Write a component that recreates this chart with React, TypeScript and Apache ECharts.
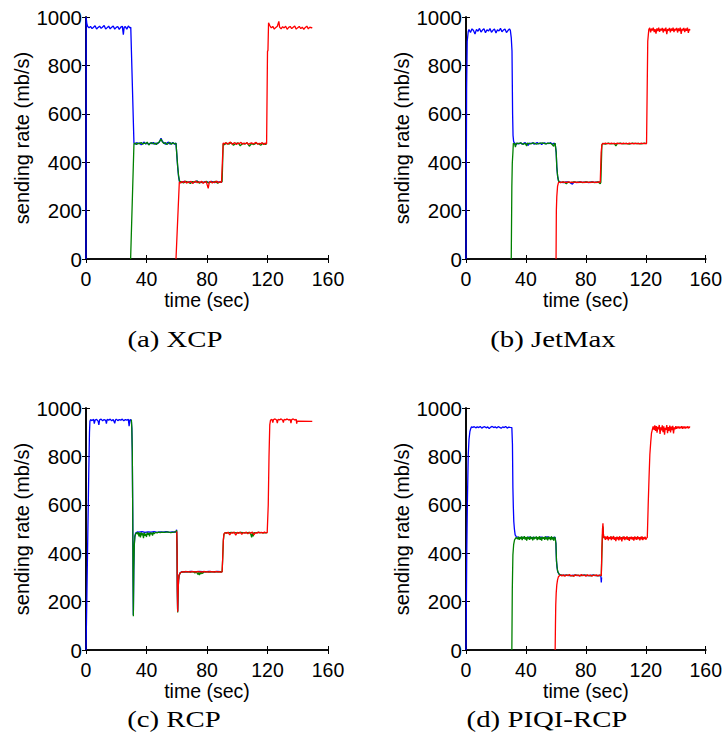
import React, { useEffect, useRef } from "react";
import * as echarts from "echarts";

const panelCaptions = ["(a) XCP", "(b) JetMax", "(c) RCP", "(d) PIQI-RCP"];
const xAxisTitle = "time (sec)";
const yAxisTitle = "sending rate (mb/s)";
const flowColors = ["#0000ff", "#008000", "#ff0000"];
const xRange = [0, 160, 40];
const yRange = [0, 1000, 200];

// (a) XCP
const xcpBlue = [[0,0],[0.1,1000],[0.5,975],[1,962],[2,955],[3,961],[4,952],[5,958],[6,964],[7,950],[8,957],[9,962],[10,953],[11,959],[12,965],[13,950],[14,956],[15,962],[16,951],[17,958],[18,963],[19,950],[20,957],[21,961],[22,949],[23,958],[24,962],[24.7,927],[25.2,957],[26,960],[27,950],[28,963],[29,955],[29.6,958],[31.7,479],[32.5,474],[33.5,481],[34.5,476],[35.5,480],[36.5,472],[37.5,478],[38.5,483],[39.5,475],[40.5,479],[41.5,473],[42.5,480],[43.5,476],[44.5,482],[45.5,474],[46.5,479],[47.5,477],[48.5,483],[49.6,499],[50.5,486],[51.5,480],[52.5,474],[53.5,479],[54.5,483],[55.5,475],[56.5,478],[57.5,481],[58.5,474],[59.5,479],[60.6,380],[61.2,340],[61.8,320],[63,316],[65,321],[67,317],[69,320],[71,315],[73,322],[75,318],[77,316],[79,320],[81,317],[83,321],[85,316],[87,319],[89,318],[90,317]];
const xcpGreen = [[29.5,0],[31.7,475],[32.5,480],[33.5,473],[34.5,479],[35.5,476],[36.5,482],[37.5,474],[38.5,479],[39.5,477],[40.5,483],[41.5,471],[42.5,478],[43.5,481],[44.5,475],[45.5,479],[46.5,473],[47.5,480],[48.5,484],[49.6,496],[50.5,484],[51.5,477],[52.5,481],[53.5,473],[54.5,478],[55.5,482],[56.5,474],[57.5,480],[58.5,477],[59.5,478],[60.6,385],[61.2,345],[61.8,322],[63,319],[64.5,314],[66,321],[67.5,317],[69,312],[70.5,320],[72,318],[73.5,322],[75,313],[76.5,319],[78,316],[79.5,321],[81,314],[82.5,319],[84,317],[85.5,321],[87,313],[88.5,318],[90,320],[90.7,476],[91.5,472],[93,479],[94.5,474],[96,481],[97.5,470],[99,477],[100.5,480],[102,468],[103.5,478],[105,475],[106.5,480],[108,466],[109.5,477],[111,473],[112.5,479],[114,476],[115.5,470],[117,478],[118.5,474],[119.5,477]];
const xcpRed = [[59.5,0],[61.7,318],[62.5,314],[63.5,320],[64.5,316],[65.5,322],[66.5,313],[67.5,319],[68.5,317],[69.5,321],[70.5,312],[71.5,318],[72.5,322],[73.5,315],[74.5,319],[75.5,316],[76.5,321],[77.5,313],[78.5,318],[79.5,320],[80.8,292],[81.5,317],[82.5,321],[83.5,314],[84.5,319],[85.5,316],[86.5,322],[87.5,315],[88.5,319],[89.6,317],[90.7,479],[91.5,476],[92.5,481],[93.5,474],[94.5,479],[95.5,483],[96.5,475],[97.5,478],[98.5,481],[99.5,473],[100.5,479],[101.5,477],[102.5,482],[103.5,474],[104.5,479],[105.5,476],[106.5,481],[107.5,473],[108.5,478],[109.5,480],[110.5,475],[111.5,479],[112.5,482],[113.5,474],[114.5,478],[115.5,476],[116.5,481],[117.5,473],[118.5,479],[119.4,476],[120,858],[120.3,862],[120.7,976],[121.5,965],[122.5,955],[123.5,961],[124.5,950],[125.5,957],[126.5,962],[127.5,982],[128,958],[129,951],[130,960],[131,955],[132,962],[133,949],[134,957],[135,961],[136,952],[137,958],[138,963],[139,950],[140,956],[141,961],[142,952],[143,958],[144,949],[145,957],[146,962],[147,951],[148,958],[149,955],[149.6,957]];

// (b) JetMax
const jetBlue = [[0,0],[0.4,700],[0.8,900],[1.5,940],[2,948],[3,936],[4,951],[5,944],[6,930],[7,949],[8,941],[9,953],[10,938],[11,946],[12,951],[13,935],[14,947],[15,942],[16,952],[17,937],[18,945],[19,950],[20,934],[21,947],[22,942],[23,953],[24,939],[25,946],[26,950],[27,936],[28,944],[29,951],[29.6,945],[30.2,915],[30.7,860],[31.1,600],[31.4,510],[31.8,485],[32.5,478],[33.5,472],[34.5,479],[35.5,476],[36.5,480],[37.5,474],[38.5,478],[39.5,481],[40.5,475],[41.5,470],[42.5,479],[43.5,477],[44.5,480],[45.5,474],[46.5,478],[47.5,481],[48.5,476],[49.5,479],[50.5,473],[51.5,478],[52.5,480],[53.5,475],[54.5,479],[55.5,477],[56.5,481],[57.5,474],[58.5,478],[59.5,477],[60.2,440],[60.6,380],[61.2,338],[61.8,322],[63,318],[65,316],[67,319],[69,317],[71,309],[72,318],[74,316],[76,319],[78,317],[80,318],[82,316],[84,319],[86,317],[88,318],[89.6,317]];
const jetGreen = [[30.2,0],[30.6,300],[30.9,396],[31.3,440],[31.6,478],[32.5,475],[33,462],[33.5,479],[35,477],[36.5,480],[38,474],[39.5,478],[40.5,467],[41,479],[43,476],[45,480],[47,475],[49,478],[51,480],[53,476],[55,479],[57,477],[58.5,466],[59,478],[59.5,477],[60.2,440],[60.6,380],[61.2,340],[61.8,322],[63,316],[65,319],[67,311],[68,318],[70,316],[72,319],[74,317],[76,318],[78,316],[80,319],[82,317],[84,318],[86,316],[88,319],[89.6,311],[90,317],[90.7,472],[91.3,478],[93,475],[95,479],[97,476],[99,478],[100,467],[101,477],[103,479],[105,476],[107,478],[109,475],[111,479],[113,477],[115,478],[117,476],[119,479],[120.5,477]];
const jetRed = [[60.1,0],[60.3,200],[60.6,258],[61.1,300],[61.7,316],[62.5,318],[63.5,316],[64.5,319],[65.5,317],[66.5,318],[67.5,316],[68.5,319],[69.5,317],[70.5,318],[71.5,316],[72.5,319],[73.5,317],[74.5,318],[75.5,316],[76.5,319],[77.5,317],[78.5,318],[79.5,316],[80.5,319],[81.5,317],[82.5,318],[83.5,316],[84.5,319],[85.5,317],[86.5,318],[87.5,316],[88.5,319],[89.6,317],[90.2,440],[90.7,472],[91.3,478],[92,476],[93,479],[94,477],[95,478],[96,476],[97,479],[98,477],[99,478],[100,476],[101,479],[102,477],[103,478],[104,476],[105,479],[106,477],[107,478],[108,476],[109,479],[110,477],[111,478],[112,476],[113,479],[114,477],[115,478],[116,476],[117,479],[118,477],[119,478],[120.5,477],[121.3,900],[122,948],[122.6,955],[123.2,937],[123.8,952],[124.4,944],[125,956],[125.6,938],[126.2,950],[126.8,931],[127.4,953],[128,942],[128.6,956],[129.2,939],[129.8,951],[130.4,944],[131,955],[131.6,936],[132.2,952],[132.8,942],[133.4,956],[134,929],[134.6,950],[135.2,944],[135.8,955],[136.4,937],[137,952],[137.6,943],[138.2,956],[138.8,938],[139.4,951],[140,945],[140.6,955],[141.2,936],[141.8,953],[142.4,942],[143,956],[143.6,930],[144.2,951],[144.8,944],[145.4,955],[146,938],[146.6,952],[147.2,943],[147.8,956],[148.4,934],[149,950],[149.6,945]];

// (c) RCP
const rcpBlue = [[0,0],[0.6,230],[1.2,480],[1.8,720],[2.3,900],[2.6,945],[3,952],[4,948],[5,953],[5.5,935],[6,950],[7,953],[8,946],[8.5,930],[9,951],[10,954],[11,947],[12,952],[13,949],[13.5,935],[14,953],[15,950],[16,954],[17,947],[18,952],[19,937],[19.5,951],[20,954],[21,948],[22,952],[23,950],[24,954],[25,947],[26,952],[27,950],[28,953],[28.5,925],[29,950],[29.5,952],[30,945],[30.3,915],[30.6,820],[30.9,560],[31.1,300],[31.3,145],[31.6,330],[31.9,434],[32.3,470],[32.8,483],[33.9,488],[35,487],[37,489],[39,486],[41,488],[43,487],[45,489],[47,486],[49,488],[51,487],[53,489],[55,486],[57,488],[59,487],[59.6,490],[59.9,497],[60.2,420],[60.4,250],[60.6,160],[60.9,245],[61.2,290],[61.5,308],[62.2,318],[63.2,323],[65,324],[67,323],[69,325],[71,324],[73,323],[75,325],[77,324],[79,323],[81,325],[83,324],[85,323],[87,325],[89,324],[90,323]];
const rcpGreen = [[30,952],[30.3,915],[30.6,820],[30.9,560],[31.1,300],[31.3,140],[31.6,330],[31.9,430],[32.3,468],[32.8,480],[33.5,485],[34,478],[34.5,487],[35,470],[35.5,484],[36,465],[36.5,486],[37,474],[37.5,482],[38,462],[38.5,485],[39,472],[39.5,480],[40,467],[40.5,486],[41,476],[41.5,483],[42,470],[42.5,486],[43,478],[43.5,484],[44,473],[44.5,487],[45,480],[46,486],[47,484],[48,487],[49,485],[50,487],[52,486],[54,488],[56,485],[58,487],[59.6,489],[59.9,495],[60.2,410],[60.4,240],[60.6,155],[60.9,240],[61.2,288],[61.5,306],[62.2,318],[63.2,322],[65,323],[67,324],[69,322],[71,324],[72,318],[73,323],[74,312],[74.5,320],[75,310],[75.5,321],[76,314],[76.5,322],[77,316],[78,323],[80,324],[82,322],[84,324],[86,323],[88,324],[90,323],[90.4,380],[90.8,450],[91.2,478],[92,485],[94,484],[96,486],[98,485],[100,484],[102,486],[104,485],[106,484],[108,486],[109,478],[109.5,465],[110,482],[110.5,470],[111,485],[112,484],[114,486],[116,485],[118,484],[119.8,485]];
const rcpRed = [[60,490],[60.2,420],[60.4,250],[60.6,158],[60.9,243],[61.2,290],[61.5,308],[62.2,318],[63.2,322],[64,324],[65,322],[66,325],[67,323],[68,324],[69,322],[70,325],[71,323],[72,324],[73,322],[74,325],[75,323],[76,324],[77,322],[78,325],[79,323],[80,324],[81,322],[82,325],[83,323],[84,324],[85,322],[86,325],[87,323],[88,324],[89,322],[90,323],[90.4,385],[90.8,455],[91.2,480],[92,485],[93,482],[94,487],[95,476],[96,485],[97,483],[98,487],[99,474],[100,486],[101,482],[102,487],[103,478],[104,485],[105,483],[106,487],[107,480],[108,486],[109,483],[110,487],[111,476],[112,485],[113,483],[114,487],[115,484],[116,486],[117,483],[118,487],[119,484],[119.8,485],[120.5,600],[121,800],[121.5,930],[122,950],[123,953],[123.5,940],[124,952],[125,955],[126,950],[126.5,938],[127,953],[128,951],[129,955],[130,949],[130.5,940],[131,953],[132,951],[133,955],[134,950],[135,953],[135.5,938],[136,952],[137,955],[138,950],[139,953],[139.3,935],[139.6,946],[149.6,945]];

// (d) PIQI-RCP
const piqiBlue = [[0,0],[0.5,400],[0.9,600],[1.5,807],[2,870],[2.6,903],[3.2,916],[3.7,922],[4.5,920],[5.5,923],[6.5,918],[7.5,922],[8.5,919],[9.5,924],[10.5,917],[11.5,921],[12.5,923],[13.5,918],[14.5,922],[15.5,915],[16.5,921],[17.5,924],[18.5,919],[19.5,922],[20.5,917],[21.5,923],[22.5,920],[23.5,916],[24.5,922],[25.5,919],[26.5,924],[27.5,917],[28.5,921],[29.5,920],[30.6,919],[31,850],[31.3,669],[31.6,590],[31.9,531],[32.3,500],[32.8,476],[33.6,468],[34.6,466],[36,464],[38,465],[40,463],[42,466],[44,464],[46,465],[48,463],[50,466],[52,464],[54,467],[56,465],[58,464],[59.5,466],[60,440],[60.4,366],[60.8,340],[61.2,324],[62.1,313],[63,309],[65,308],[67,309],[69,307],[71,308],[73,309],[75,307],[77,308],[79,309],[81,307],[83,308],[85,309],[87,307],[89,308],[90,306],[90.3,279],[90.5,300]];
const piqiGreen = [[30.6,0],[30.9,250],[31.3,393],[31.8,435],[32.4,455],[33.5,465],[34.5,458],[35,468],[35.5,455],[36,466],[36.5,459],[37,469],[37.5,454],[38,467],[38.5,460],[39,470],[39.5,456],[40,466],[40.5,452],[41,468],[41.5,459],[42,466],[42.5,455],[43,469],[43.5,460],[44,465],[44.5,453],[45,468],[45.5,457],[46,466],[46.5,461],[47,469],[47.5,454],[48,466],[48.5,458],[49,470],[49.5,455],[50,465],[50.5,452],[51,467],[51.5,460],[52,466],[52.5,455],[53,469],[53.5,458],[54,465],[54.5,453],[55,468],[55.5,459],[56,466],[56.5,454],[57,470],[57.5,457],[58,465],[58.5,452],[59,467],[59.5,462],[60,440],[60.4,368],[60.8,342],[61.2,325],[62.1,314],[63,310],[65,307],[67,309],[69,308],[71,306],[73,309],[75,308],[77,307],[79,309],[81,308],[83,306],[85,309],[87,307],[89,308],[90.3,307],[90.7,400],[91.1,470],[91.4,510],[91.8,470],[92.2,463],[93,466],[95,461],[97,467],[99,460],[101,465],[103,462],[105,466],[107,459],[109,464],[111,461],[113,466],[115,460],[117,465],[119,462],[120,463]];
const piqiRed = [[59.5,0],[59.7,100],[59.9,186],[60.2,235],[60.6,269],[61.1,290],[61.7,303],[62.5,308],[63.2,310],[64,306],[65,311],[66,305],[67,310],[68,307],[69,312],[70,306],[71,309],[72,304],[73,311],[74,307],[75,310],[76,305],[77,312],[78,307],[79,309],[80,305],[81,311],[82,307],[83,310],[84,305],[85,309],[86,307],[87,311],[88,306],[89,309],[90.3,308],[90.7,420],[91.1,500],[91.4,524],[91.7,480],[92,463],[92.5,470],[93,455],[93.5,468],[94,458],[94.5,471],[95,453],[95.5,466],[96,460],[96.5,469],[97,454],[97.5,467],[98,459],[98.5,471],[99,455],[99.5,465],[100,450],[100.5,468],[101,458],[101.5,466],[102,453],[102.5,470],[103,457],[103.5,465],[104,449],[104.5,467],[105,458],[105.5,469],[106,454],[106.5,466],[107,460],[107.5,470],[108,455],[108.5,464],[109,451],[109.5,467],[110,459],[110.5,468],[111,456],[111.5,466],[112,452],[112.5,469],[113,458],[113.5,465],[114,455],[114.5,470],[115,460],[115.5,466],[116,453],[116.5,467],[117,457],[117.5,469],[118,454],[118.5,465],[119,459],[119.5,468],[120,456],[120.5,463],[121,465],[121.6,600],[122.2,720],[122.7,807],[123.3,860],[123.8,896],[124.4,912],[124.9,924],[125.5,910],[126,928],[126.5,905],[127,925],[127.5,898],[128,922],[128.5,912],[129,930],[129.5,893],[130,920],[130.5,908],[131,928],[131.5,900],[132,924],[132.5,890],[133,918],[133.5,910],[134,929],[134.5,896],[135,921],[135.5,906],[136,927],[136.5,899],[137,923],[137.5,909],[138,926],[138.5,895],[139,920],[139.5,912],[140,925],[140.5,914],[141,923],[141.5,916],[142,924],[142.5,915],[143,922],[143.5,917],[144,925],[144.5,914],[145,923],[145.5,916],[146,924],[146.5,915],[147,922],[147.5,918],[148,924],[148.5,916],[149,922],[149.6,920]];

const panelFlows = [
  [xcpBlue, xcpGreen, xcpRed],
  [jetBlue, jetGreen, jetRed],
  [rcpBlue, rcpGreen, rcpRed],
  [piqiBlue, piqiGreen, piqiRed],
];

const gridBoxes = [
  { left: 86, top: 17 },
  { left: 466, top: 17 },
  { left: 86, top: 408 },
  { left: 466, top: 408 },
];
const captionPos = [
  { x: 175, y: 339 },
  { x: 553, y: 339 },
  { x: 174, y: 719 },
  { x: 547, y: 719 },
];

const SANS = "'Liberation Sans', Arial, Helvetica, sans-serif";
const SERIF = "'Liberation Serif', 'Times New Roman', serif";

export default function App() {
  const ref = useRef<HTMLDivElement>(null);
  useEffect(() => {
    if (!ref.current) return;
    const chart = echarts.init(ref.current, null, { renderer: "svg" });
    const grid: any[] = [];
    const xAxis: any[] = [];
    const yAxis: any[] = [];
    const series: any[] = [];
    const frameLine = { show: true, lineStyle: { color: "#000", width: 1.6 } };
    const tick = { show: true, inside: true, length: 4, lineStyle: { color: "#000", width: 1 } };
    panelFlows.forEach((flows, i) => {
      grid.push({ left: gridBoxes[i].left, top: gridBoxes[i].top, width: 242, height: 242, containLabel: false });
      xAxis.push({
        type: "value", gridIndex: i, position: "bottom", min: xRange[0], max: xRange[1], interval: xRange[2],
        axisLine: frameLine, axisTick: tick, splitLine: { show: false },
        axisLabel: { color: "#000", fontSize: 19.5, fontFamily: SANS, margin: 10, formatter: (v: number) => String(v) },
        name: xAxisTitle, nameLocation: "middle", nameGap: 28,
        nameTextStyle: { color: "#000", fontSize: 19.5, fontFamily: SANS },
      });
      xAxis.push({
        type: "value", gridIndex: i, position: "top", min: xRange[0], max: xRange[1], interval: xRange[2],
        axisLine: frameLine, axisTick: tick, splitLine: { show: false }, axisLabel: { show: false },
      });
      yAxis.push({
        type: "value", gridIndex: i, position: "left", min: yRange[0], max: yRange[1], interval: yRange[2],
        axisLine: frameLine, axisTick: tick, splitLine: { show: false },
        axisLabel: { color: "#000", fontSize: 20.5, fontFamily: SANS, margin: 4, formatter: (v: number) => String(v) },
        name: yAxisTitle, nameLocation: "middle", nameGap: 53,
        nameTextStyle: { color: "#000", fontSize: 20, fontFamily: SANS },
      });
      yAxis.push({
        type: "value", gridIndex: i, position: "right", min: yRange[0], max: yRange[1], interval: yRange[2],
        axisLine: frameLine, axisTick: tick, splitLine: { show: false }, axisLabel: { show: false },
      });
      flows.forEach((data, k) => {
        series.push({
          type: "line", xAxisIndex: 2 * i, yAxisIndex: 2 * i, data, showSymbol: false, symbol: "none",
          lineStyle: { color: flowColors[k], width: 1.3 }, clip: true, silent: true,
        });
      });
    });
    const graphic = panelCaptions.map((t, i) => ({
      type: "text", x: captionPos[i].x, y: captionPos[i].y, scaleX: 1.2,
      style: { text: t, font: `24px ${SERIF}`, fill: "#000", textAlign: "center", textVerticalAlign: "middle" },
    }));
    chart.setOption({ animation: false, grid, xAxis, yAxis, series, graphic, backgroundColor: "#fff" });
    return () => chart.dispose();
  }, []);
  return <div ref={ref} style={{ position: "fixed", left: 0, top: 0, width: 725, height: 741, background: "#fff" }} />;
}
